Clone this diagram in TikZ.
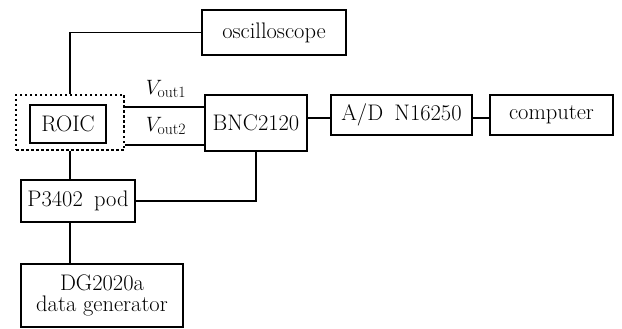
\documentclass[tikz,border=0pt]{standalone}
\usepackage{fontspec}
\begin{document}
\begin{tikzpicture}[x=1pt,y=-1pt,
  box/.style={draw,line width=1.5pt,rectangle,inner sep=0pt,align=center,font=\fontsize{22.5}{24}\selectfont},
  wire/.style={line width=1.5pt}]
\useasboundingbox (0,0) rectangle (622,329);
\node[box,minimum width=144pt,minimum height=45pt] (osc) at (274,32.5) {oscilloscope};
\node[draw,line width=1.2pt,dash pattern=on 2.5pt off 2.5pt,minimum width=108pt,minimum height=55pt,inner sep=0pt] (dash) at (70,122.5) {};
\node[box,minimum width=76pt,minimum height=38pt] (roic) at (68,124) {ROIC};
\node[box,minimum width=102pt,minimum height=56pt] (bnc) at (256,123) {BNC2120};
\node[box,minimum width=141pt,minimum height=40pt] (ad) at (401.5,115) {A/D\enspace N16250};
\node[box,minimum width=123pt,minimum height=40pt] (comp) at (551.5,115) {computer};
\node[box,minimum width=114pt,minimum height=42pt] (pod) at (78,201) {P3402\enspace pod};
\node[box,minimum width=162pt,minimum height=63pt] (dg) at (102,295.5) {DG2020a\\[-3pt]data generator};
\node[font=\fontsize{22.5}{24}\selectfont] (v1) at (166,89) {$V_{\mathrm{out1}}$};
\node[font=\fontsize{22.5}{24}\selectfont] (v2) at (166,126) {$V_{\mathrm{out2}}$};
\draw[wire] (osc.west) -| (dash.north);
\draw[wire] (dash.east |- 0,107) -- (bnc.west |- 0,107);
\draw[wire] (dash.east |- 0,145) -- (bnc.west |- 0,145);
\draw[wire] (bnc.east |- 0,118) -- (ad.west |- 0,118);
\draw[wire] (ad.east |- 0,118) -- (comp.west |- 0,118);
\draw[wire] (dash.south) -- (dash.south |- pod.north);
\draw[wire] (pod.east) -| (bnc.south);
\draw[wire] (dash.south |- pod.south) -- (dash.south |- dg.north);
\end{tikzpicture}
\end{document}
